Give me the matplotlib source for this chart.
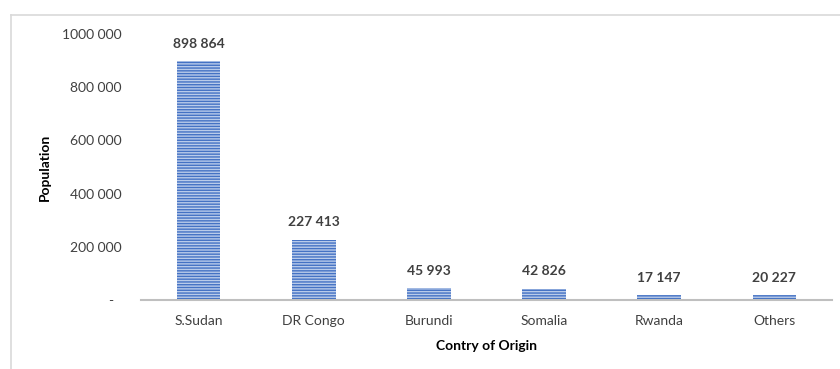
import matplotlib.pyplot as plt
from matplotlib.lines import Line2D

countries = ["S.Sudan", "DR Congo", "Burundi", "Somalia", "Rwanda", "Others"]
population = [898864, 227413, 45993, 42826, 17147, 20227]
y_ticks = [0, 200000, 400000, 600000, 800000, 1000000]
y_tick_labels = ["-", "200 000", "400 000", "600 000", "800 000", "1000 000"]


def fmt(v: int) -> str:
    return f"{v:,}".replace(",", " ")


plt.rcParams["font.family"] = ["Lato", "DejaVu Sans"]
plt.rcParams["hatch.linewidth"] = 1.0
plt.rcParams["hatch.color"] = "#4472C4"

fig = plt.figure(figsize=(8.4, 3.69), dpi=100, facecolor="white")
ax = fig.add_axes([141 / 840, 69 / 369, 691 / 840, 266 / 369])

x = list(range(len(countries)))
ax.bar(x, population, width=0.38, color="#b9cbea", edgecolor="#4472C4",
       linewidth=0, hatch="------")

for xi, v in zip(x, population):
    ax.annotate(fmt(v), (xi, v), xytext=(0, 8), textcoords="offset points",
                ha="center", va="bottom", fontsize=10, fontweight="bold",
                color="#404040")

ax.set_xlim(-0.5, len(countries) - 0.5)
ax.set_ylim(0, 1000000)
ax.set_xticks(x)
ax.set_xticklabels(countries, fontsize=10, color="#404040")
ax.set_yticks(y_ticks)
ax.set_yticklabels(y_tick_labels, fontsize=10, color="#404040")
ax.tick_params(axis="both", length=0)
ax.tick_params(axis="y", pad=14)
ax.tick_params(axis="x", pad=11)

# the dash for zero sits a bit further left in the original
ax.get_yticklabels()[0].set_x(-0.012)

for s in ("top", "right", "left"):
    ax.spines[s].set_visible(False)
ax.spines["bottom"].set_color("#bfbfbf")
ax.spines["bottom"].set_linewidth(1.5)

ax.set_xlabel("Contry of Origin", fontsize=10, fontweight="bold", labelpad=9)
ax.set_ylabel("Population", fontsize=10, fontweight="bold", labelpad=8)

# chart frame (partly cropped in the original)
fig.add_artist(Line2D([11 / 840, 1], [1 - 15 / 369] * 2, transform=fig.transFigure,
                      color="#d9d9d9", linewidth=1.2))
fig.add_artist(Line2D([11 / 840] * 2, [0, 1 - 15 / 369], transform=fig.transFigure,
                      color="#d9d9d9", linewidth=1.2))

fig.savefig("out.png", dpi=100, facecolor="white")
